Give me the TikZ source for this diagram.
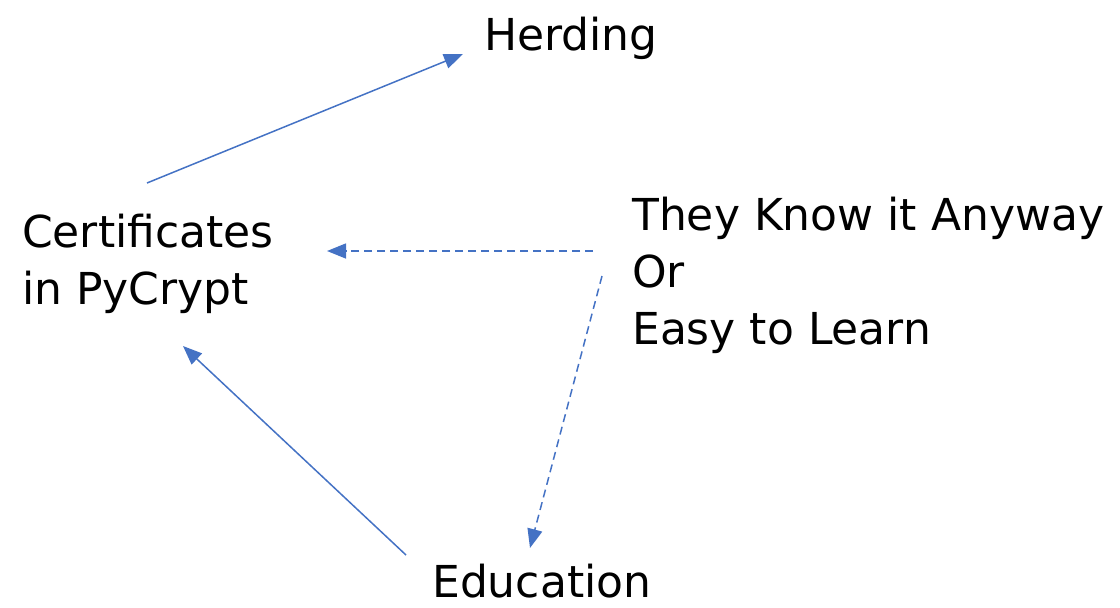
\documentclass[tikz,border=0pt]{standalone}
\usepackage{fontspec}
\setmainfont{DejaVu Sans}
\usetikzlibrary{arrows.meta,calc}
\definecolor{arrowblue}{HTML}{4472C4}
\tikzset{
  lbl/.style={inner sep=0pt, anchor=base west, align=left, font=\fontsize{44}{57}\selectfont},
  conn/.style={draw=arrowblue, line width=1.5pt, -{Triangle[length=19pt,width=15pt]}},
  dconn/.style={conn, dash pattern=on 8pt off 5pt}
}
\begin{document}
\begin{tikzpicture}[x=1pt,y=-1pt]
\useasboundingbox (0,0) rectangle (1120,608);
\node[lbl] (herd) at (484,50) {Herding};
\node[lbl] (cert) at (22,304) {Certificates\\in PyCrypt};
\node[lbl] (know) at (632,344) {They Know it Anyway\\Or\\Easy to Learn};
\node[lbl] (edu) at (432,597) {Education};
\coordinate (certtop) at (147,183);
\coordinate (herdin) at (463,54);
\coordinate (knowl) at (593,251);
\coordinate (certr) at (327,251);
\coordinate (knowb) at (602,276);
\coordinate (eduin) at (530,548);
\coordinate (edul) at (406,555);
\coordinate (certb) at (183,346);
\draw[conn] (certtop) -- (herdin);
\draw[dconn] (knowl) -- (certr);
\draw[conn] (edul) -- (certb);
\draw[dconn] (knowb) -- (eduin);
\end{tikzpicture}
\end{document}
